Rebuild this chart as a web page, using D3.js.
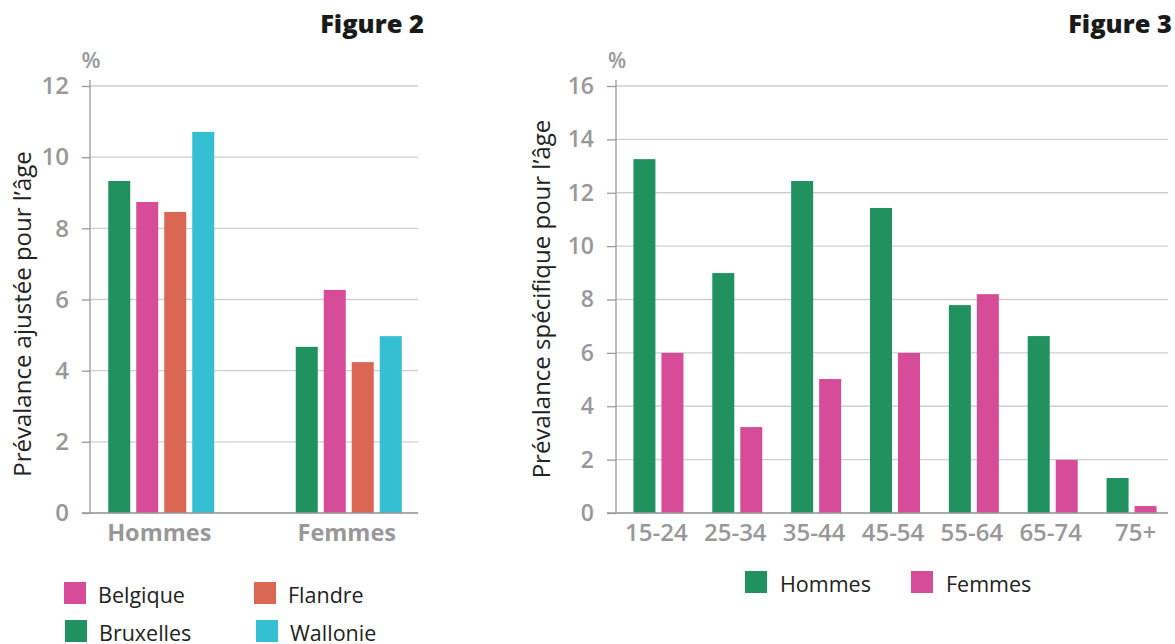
<!DOCTYPE html>
<html><head><meta charset="utf-8">
<script src="https://cdn.jsdelivr.net/npm/d3@7"></script>
<style>
body{margin:0;background:#fff;}
svg{display:block;}
text{font-family:"Open Sans","Noto Sans",sans-serif;}
</style></head>
<body>
<svg id="c" width="1175" height="644"></svg>
<script>
// ---------- Data ----------
const fig2Groups = ["Hommes", "Femmes"];
const fig2Regions = ["Bruxelles", "Belgique", "Flandre", "Wallonie"];
const fig2Bruxelles = [9.33, 4.67];
const fig2Belgique = [8.74, 6.27];
const fig2Flandre = [8.46, 4.24];
const fig2Wallonie = [10.71, 4.97];
const fig2Ticks = [0, 2, 4, 6, 8, 10, 12];

const fig3Ages = ["15-24", "25-34", "35-44", "45-54", "55-64", "65-74", "75+"];
const fig3Sexes = ["Hommes", "Femmes"];
const fig3Hommes = [13.26, 8.99, 12.44, 11.43, 7.79, 6.63, 1.31];
const fig3Femmes = [6.0, 3.22, 5.02, 6.0, 8.2, 1.99, 0.26];
const fig3Ticks = [0, 2, 4, 6, 8, 10, 12, 14, 16];

const colors = {Bruxelles:"#21925f", Belgique:"#d74c98", Flandre:"#da6654", Wallonie:"#34bfd2",
                Hommes:"#21925f", Femmes:"#d74c98"};
const grayText = "#98989b";
const gridColor = "#cfcfd1";
const axisColor = "#9a9a9c";

const svg = d3.select("#c");

// ---------- Figure 2 ----------
(function(){
  const fig2Values = {Bruxelles: fig2Bruxelles, Belgique: fig2Belgique, Flandre: fig2Flandre, Wallonie: fig2Wallonie};
  const y = d3.scaleLinear().domain([0, 12]).range([513, 86]);
  const x0 = d3.scaleBand().domain(fig2Groups).range([67.5, 442.5]);
  const x1 = d3.scaleBand().domain(fig2Regions).range([-53, 53]).paddingInner(6/28);
  const left = 90, right = 418;
  const g = svg.append("g");
  g.selectAll("line.grid").data(fig2Ticks).join("line")
    .attr("x1", left).attr("x2", right).attr("y1", d=>y(d)).attr("y2", d=>y(d))
    .attr("stroke", gridColor).attr("stroke-width", 1.3);
  const ax = g.append("g").attr("transform", `translate(${left},0)`)
    .call(d3.axisLeft(y).tickValues(fig2Ticks).tickSize(8).tickPadding(13).tickFormat(d3.format("d")));
  ax.select(".domain").attr("stroke", axisColor).attr("stroke-width", 1.3).attr("d", `M0,${y(0)}V${y(12)-6}`);
  ax.selectAll(".tick line").attr("stroke", axisColor).attr("stroke-width", 1.3);
  ax.selectAll(".tick text").attr("fill", grayText).attr("font-size", 24).attr("font-weight", 600)
    .attr("font-family", '"Open Sans",sans-serif');
  fig2Groups.forEach((grp, gi) => {
    g.selectAll(null).data(fig2Regions).join("rect")
      .attr("x", r => x0(grp) + x0.bandwidth()/2 + x1(r))
      .attr("width", x1.bandwidth())
      .attr("y", r => y(fig2Values[r][gi]))
      .attr("height", r => y(0) - y(fig2Values[r][gi]))
      .attr("fill", r => colors[r]);
  });
  g.append("line").attr("x1", left-8).attr("x2", right).attr("y1", y(0)).attr("y2", y(0))
    .attr("stroke", axisColor).attr("stroke-width", 1.3);
  g.selectAll("text.cat").data(fig2Groups).join("text")
    .attr("x", d => x0(d) + x0.bandwidth()/2 - 2).attr("y", 541)
    .attr("text-anchor", "middle").attr("fill", grayText).attr("font-size", 23.5).attr("font-weight", 700)
    .text(d => d);
  g.append("text").attr("x", 91).attr("y", 68).attr("text-anchor","middle").attr("fill", grayText)
    .attr("font-size", 22).attr("font-weight", 600).text("%");
  g.append("text").attr("transform", "translate(31,314) rotate(-90)").attr("text-anchor","middle")
    .attr("fill", "#222").attr("font-size", 24).text("Prévalance ajustée pour l’âge");
  g.append("text").attr("x", 424).attr("y", 33).attr("text-anchor","end").attr("fill","#1a1a1a")
    .attr("font-size", 25.5).attr("font-weight", 800).text("Figure 2");
  const legend = [
    {k:"Belgique", x:64, y:582}, {k:"Flandre", x:254, y:582},
    {k:"Bruxelles", x:65, y:620}, {k:"Wallonie", x:256, y:620}
  ];
  legend.forEach(l => {
    g.append("rect").attr("x", l.x).attr("y", l.y).attr("width", 22).attr("height", 22).attr("fill", colors[l.k]);
    g.append("text").attr("x", l.x + 34).attr("y", l.y + 21).attr("fill", "#222").attr("font-size", 21.5).text(l.k);
  });
})();

// ---------- Figure 3 ----------
(function(){
  const fig3Values = {Hommes: fig3Hommes, Femmes: fig3Femmes};
  const y = d3.scaleLinear().domain([0, 16]).range([513, 86]);
  const x0 = d3.scaleBand().domain(fig3Ages).range([619, 1171]);
  const x1 = d3.scaleBand().domain(fig3Sexes).range([-25, 25]).paddingInner(6/28);
  const left = 616, right = 1168;
  const g = svg.append("g");
  g.selectAll("line.grid").data(fig3Ticks).join("line")
    .attr("x1", left).attr("x2", right).attr("y1", d=>y(d)).attr("y2", d=>y(d))
    .attr("stroke", gridColor).attr("stroke-width", 1.3);
  const ax = g.append("g").attr("transform", `translate(${left},0)`)
    .call(d3.axisLeft(y).tickValues(fig3Ticks).tickSize(9).tickPadding(13).tickFormat(d3.format("d")));
  ax.select(".domain").attr("stroke", axisColor).attr("stroke-width", 1.3).attr("d", `M0,${y(0)}V${y(16)-6}`);
  ax.selectAll(".tick line").attr("stroke", axisColor).attr("stroke-width", 1.3);
  ax.selectAll(".tick text").attr("fill", grayText).attr("font-size", 23).attr("font-weight", 600)
    .attr("font-family", '"Open Sans",sans-serif');
  fig3Sexes.forEach(s => {
    g.selectAll(null).data(fig3Ages).join("rect")
      .attr("x", a => x0(a) + x0.bandwidth()/2 + x1(s))
      .attr("width", x1.bandwidth())
      .attr("y", (a, i) => y(fig3Values[s][i]))
      .attr("height", (a, i) => y(0) - y(fig3Values[s][i]))
      .attr("fill", colors[s]);
  });
  g.append("line").attr("x1", left-9).attr("x2", right).attr("y1", y(0)).attr("y2", y(0))
    .attr("stroke", axisColor).attr("stroke-width", 1.3);
  g.selectAll("text.cat").data(fig3Ages).join("text")
    .attr("x", d => x0(d) + x0.bandwidth()/2 + (d === "75+" ? 4 : -2)).attr("y", 541)
    .attr("text-anchor", "middle").attr("fill", grayText).attr("font-size", 24).attr("font-weight", 600)
    .text(d => d);
  g.append("text").attr("x", 617).attr("y", 68).attr("text-anchor","middle").attr("fill", grayText)
    .attr("font-size", 21).attr("font-weight", 600).text("%");
  g.append("text").attr("transform", "translate(550,299) rotate(-90)").attr("text-anchor","middle")
    .attr("fill", "#222").attr("font-size", 24).text("Prévalance spécifique pour l’âge");
  g.append("text").attr("x", 1172).attr("y", 33).attr("text-anchor","end").attr("fill","#1a1a1a")
    .attr("font-size", 25.5).attr("font-weight", 800).text("Figure 3");
  const legend = [{k:"Hommes", x:745, y:571}, {k:"Femmes", x:911, y:571}];
  legend.forEach(l => {
    g.append("rect").attr("x", l.x).attr("y", l.y).attr("width", 22).attr("height", 22).attr("fill", colors[l.k]);
    g.append("text").attr("x", l.x + 35).attr("y", l.y + 21).attr("fill", "#222").attr("font-size", 21.5).text(l.k);
  });
})();
</script>
</body></html>
